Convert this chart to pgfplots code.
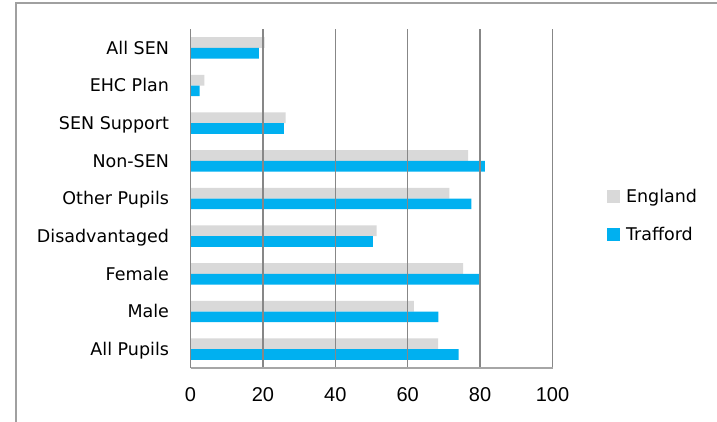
\documentclass[border=0pt]{standalone}
\usepackage{fontspec}
\setmainfont{DejaVu Sans}
\newfontfamily\tickfont{Liberation Sans}
\usepackage{pgfplots}
\pgfplotsset{compat=1.18}
\definecolor{eng}{HTML}{D9D9D9}
\definecolor{traf}{HTML}{00B0F0}
\definecolor{gridc}{HTML}{878787}
\definecolor{framec}{HTML}{A0A0A0}
\definecolor{baseaxis}{HTML}{A6A6A6}
\begin{document}
\begin{tikzpicture}
\useasboundingbox (0,0) rectangle (717bp,422bp);
\fill[white] (0,0) rectangle (717bp,422bp);
\draw[framec, line width=1.3bp] (16bp,-20bp) -- (16bp,419bp) -- (740bp,419bp);
\begin{axis}[
  at={(190.5bp,54bp)}, anchor=south west,
  scale only axis, width=362bp, height=339bp,
  xbar, bar width=10.7bp,
  xmin=0, xmax=100, ymin=-0.5, ymax=8.5,
  xtick={0,20,...,100},
  ytick={0,...,8},
  yticklabels={All Pupils, Male, Female, Disadvantaged, Other Pupils, Non-SEN, SEN Support, EHC Plan, All SEN},
  axis x line*=bottom, axis y line*=left,
  x axis line style={baseaxis, line width=1.4bp, -},
  y axis line style={gridc, line width=1.4bp, -},
  major tick length=0pt, tick style={draw=none},
  xmajorgrids, grid style={gridc, line width=1.4bp},
  axis on top,
  /pgf/number format/assume math mode=true,
  xticklabel style={font=\tickfont\fontsize{20bp}{24bp}\selectfont, yshift=-16bp},
  yticklabel style={font=\fontsize{17.5bp}{21bp}\selectfont, text height=12.8bp, text depth=0bp, xshift=-18bp},
  legend style={draw=none, fill=none, at={(1.150,0.45)}, anchor=west,
    row sep=23bp, column sep=5bp, inner sep=0pt,
    nodes={inner sep=1bp, text height=12.8bp, text depth=0bp},
    font=\fontsize{17.5bp}{21bp}\selectfont},
  legend cell align=left,
  legend image code/.code={\fill[#1] (0bp,-6.5bp) rectangle (13bp,6.5bp);},
]
\addplot[fill=eng, draw=none, bar shift=5.35bp] coordinates {
  (68.4,0) (61.7,1) (75.3,2) (51.4,3) (71.5,4) (76.7,5) (26.3,6) (3.8,7) (20.5,8)};
\addlegendentry{England}
\addplot[fill=traf, draw=none, bar shift=-5.35bp] coordinates {
  (74.1,0) (68.5,1) (80.0,2) (50.4,3) (77.6,4) (81.3,5) (25.8,6) (2.5,7) (18.9,8)};
\addlegendentry{Trafford}
\end{axis}
\end{tikzpicture}
\end{document}
